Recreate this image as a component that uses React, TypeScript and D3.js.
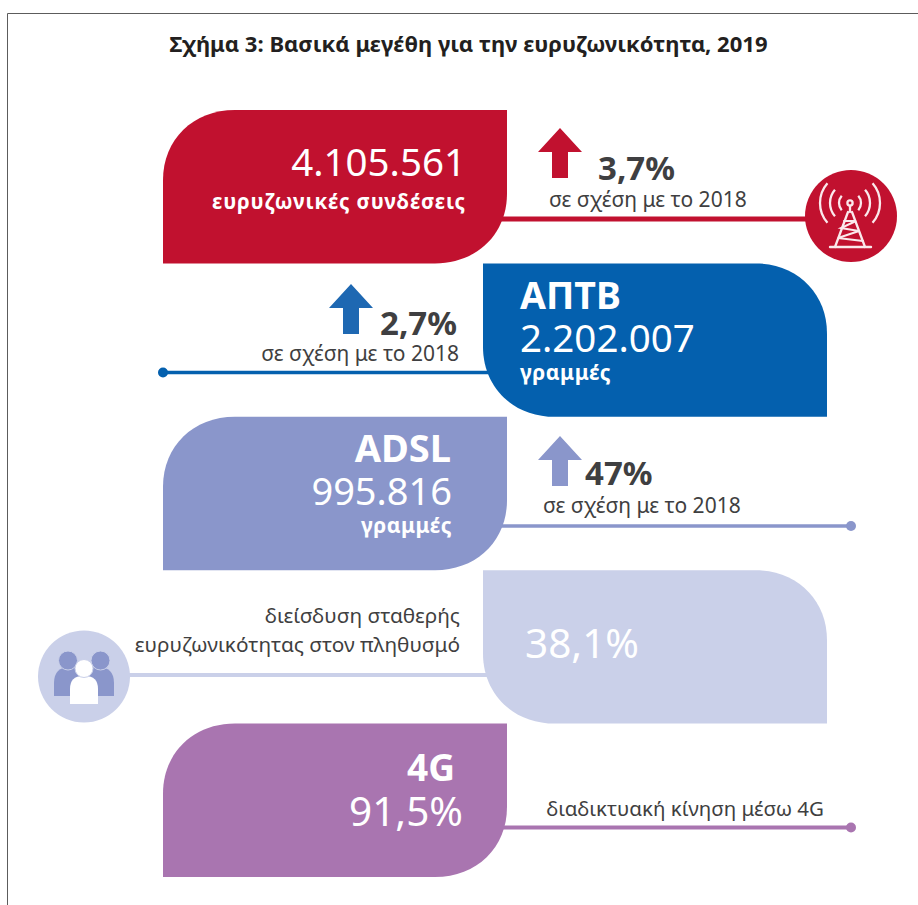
import React from "react";
import * as d3 from "d3";

const title = "Σχήμα 3: Βασικά μεγέθη για την ευρυζωνικότητα, 2019";
const rowKeys = ["total", "vdsl", "adsl", "penetration", "lte"];
const rowColors = ["#c1112f", "#0460ae", "#8a96cb", "#cad0e9", "#a975b0"];
const rowSides = ["left", "right", "left", "right", "left"];
const headings = ["", "ΑΠΤΒ", "ADSL", "", "4G"];
const values = ["4.105.561", "2.202.007", "995.816", "38,1%", "91,5%"];
const units = ["ευρυζωνικές συνδέσεις", "γραμμές", "γραμμές", "", ""];
const changes = ["3,7%", "2,7%", "47%", "", ""];
const arrowColors = ["#c1112f", "#1e68b2", "#8a96cb", "", ""];
const compareLabel = "σε σχέση με το 2018";
const penetrationLines = ["διείσδυση σταθερής", "ευρυζωνικότητας στον πληθυσμό"];
const lteLabel = "διαδικτυακή κίνηση μέσω 4G";

const FONT = "'Noto Sans', 'Open Sans', sans-serif";
const DARK = "#3f3f41";

const rowScale = d3.scaleBand<string>().domain(rowKeys).range([110, 877]);
const panelX = d3.scaleOrdinal<string, number>().domain(["left", "right"]).range([163, 483]);
const PANEL_W = 344;

function panelPath(x: number, y: number, w: number, h: number, side: string) {
  const rx = 72;
  const ry = 70;
  const k = 0.58;
  const p = d3.path();
  if (side === "left") {
    p.moveTo(x + rx, y);
    p.lineTo(x + w, y);
    p.lineTo(x + w, y + h - ry);
    p.bezierCurveTo(x + w, y + h - ry + ry * k, x + w - rx + rx * k, y + h, x + w - rx, y + h);
    p.lineTo(x, y + h);
    p.lineTo(x, y + ry);
    p.bezierCurveTo(x, y + ry - ry * k, x + rx - rx * k, y, x + rx, y);
  } else {
    p.moveTo(x, y);
    p.lineTo(x + w - rx, y);
    p.bezierCurveTo(x + w - rx + rx * k, y, x + w, y + ry - ry * k, x + w, y + ry);
    p.lineTo(x + w, y + h);
    p.lineTo(x + rx, y + h);
    p.bezierCurveTo(x + rx - rx * k, y + h, x, y + h - ry + ry * k, x, y + h - ry);
    p.lineTo(x, y);
  }
  p.closePath();
  return p.toString();
}

function arrowPath(cx: number, top: number) {
  const p = d3.path();
  p.moveTo(cx, top);
  p.lineTo(cx + 22, top + 24);
  p.lineTo(cx + 8, top + 24);
  p.lineTo(cx + 8, top + 50);
  p.lineTo(cx - 8, top + 50);
  p.lineTo(cx - 8, top + 24);
  p.lineTo(cx - 22, top + 24);
  p.closePath();
  return p.toString();
}

function Txt(props: any) {
  const { x, y, size, weight, fill, anchor, children, spacing } = props;
  return (
    <text
      x={x}
      y={y}
      fontSize={size}
      fontWeight={weight ?? 400}
      fill={fill}
      textAnchor={anchor ?? "start"}
      fontFamily={FONT}
      letterSpacing={spacing}
    >
      {children}
    </text>
  );
}

function Tower({ cx, cy }: { cx: number; cy: number }) {
  const arc = (r: number, a0: number, a1: number) =>
    d3.arc()({ innerRadius: r, outerRadius: r, startAngle: a0, endAngle: a1 } as any) as string;
  const radii = [11, 20, 30];
  const a = 0.72;
  const by = cy + 44;
  return (
    <g fill="none" stroke="#fbe9ec" strokeWidth={2.3} strokeLinecap="round">
      {radii.map((r) => (
        <g key={r} transform={`translate(${cx},${cy})`}>
          <path d={arc(r, Math.PI / 2 - a, Math.PI / 2 + a)} />
          <path d={arc(r, -Math.PI / 2 - a, -Math.PI / 2 + a)} />
        </g>
      ))}
      <circle cx={cx} cy={cy} r={2.6} />
      <path d={`M${cx} ${cy + 3}V${cy + 9}`} />
      <path d={`M${cx - 2} ${cy + 9}L${cx - 15} ${by}M${cx + 2} ${cy + 9}L${cx + 15} ${by}`} />
      <path d={`M${cx - 20} ${by}H${cx + 21}`} strokeWidth={2.4} />
      <path
        d={`M${cx - 6} ${cy + 18}L${cx + 6} ${cy + 18}L${cx - 9} ${cy + 25}L${cx + 9} ${cy + 28}L${cx - 12} ${cy + 35}L${cx + 13} ${cy + 38}`}
        strokeWidth={2}
      />
    </g>
  );
}

function People({ cx, cy, dark, light }: { cx: number; cy: number; dark: string; light: string }) {
  const body = (x: number, y: number, w: number, h: number, r: number) => {
    const p = d3.path();
    p.moveTo(x, y + h);
    p.lineTo(x, y + r);
    p.quadraticCurveTo(x, y, x + r, y);
    p.lineTo(x + w - r, y);
    p.quadraticCurveTo(x + w, y, x + w, y + r);
    p.lineTo(x + w, y + h);
    p.closePath();
    return p.toString();
  };
  return (
    <g>
      <path d={body(cx - 30, cy - 9, 32, 29, 16)} fill={dark} />
      <path d={body(cx - 2, cy - 9, 32, 29, 16)} fill={dark} />
      <circle cx={cx - 16} cy={cy - 15.5} r={9.5} fill={dark} stroke={light} strokeWidth={1} />
      <circle cx={cx + 16.5} cy={cy - 15.5} r={9.5} fill={dark} stroke={light} strokeWidth={1} />
      <path d={body(cx - 14, cy + 0, 28, 28, 13)} fill="#fff" />
      <circle cx={cx} cy={cy - 7.5} r={9} fill="#fff" stroke={light} strokeWidth={1} />
    </g>
  );
}

export default function App() {
  const bh = rowScale.bandwidth();
  const py = (k: string) => rowScale(k) as number;
  return (
    <svg
      width={918}
      height={905}
      viewBox="0 0 918 905"
      style={{ position: "absolute", left: 0, top: 0, background: "#fff" }}
    >
      <path d="M7.5 905V13.5H918" fill="none" stroke="#5c5c5c" strokeWidth={1} />
      <Txt x={468.5} y={52} size={22.05} weight={700} fill="#231f20" anchor="middle">
        {title}
      </Txt>

      {/* connector lines */}
      <line x1={490} x2={820} y1={219} y2={219} stroke={rowColors[0]} strokeWidth={5} />
      <line x1={163} x2={500} y1={372.5} y2={372.5} stroke={rowColors[1]} strokeWidth={3.5} />
      <circle cx={163} cy={372.5} r={5} fill={rowColors[1]} />
      <line x1={490} x2={851} y1={526} y2={526} stroke={rowColors[2]} strokeWidth={3.5} />
      <circle cx={851} cy={526} r={5} fill={rowColors[2]} />
      <line x1={125} x2={500} y1={675} y2={675} stroke={rowColors[3]} strokeWidth={4} />
      <line x1={490} x2={851} y1={827.5} y2={827.5} stroke={rowColors[4]} strokeWidth={4} />
      <circle cx={851} cy={827.5} r={5} fill={rowColors[4]} />

      {/* panels */}
      {rowKeys.map((k, i) => (
        <path key={k} d={panelPath(panelX(rowSides[i]), py(k), PANEL_W, bh, rowSides[i])} fill={rowColors[i]} />
      ))}

      {/* row 1 */}
      <Txt x={466} y={176} size={38.5} fill="#fff" anchor="end">{values[0]}</Txt>
      <Txt x={466} y={209} size={20.5} weight={700} fill="#fff" anchor="end" spacing={0.85}>{units[0]}</Txt>
      <path d={arrowPath(560, 128)} fill={arrowColors[0]} />
      <Txt x={598} y={180} size={33} weight={700} fill={DARK}>{changes[0]}</Txt>
      <Txt x={549} y={207} size={21} fill={DARK}>{compareLabel}</Txt>
      <circle cx={851} cy={216} r={46} fill={rowColors[0]} />
      <Tower cx={850} cy={203} />

      {/* row 2 */}
      <Txt x={520} y={309} size={37.5} weight={700} fill="#fff">{headings[1]}</Txt>
      <Txt x={520} y={352} size={38.5} fill="#fff">{values[1]}</Txt>
      <Txt x={520} y={380} size={21} weight={700} fill="#fff" spacing={0.5}>{units[1]}</Txt>
      <path d={arrowPath(351, 284)} fill={arrowColors[1]} />
      <Txt x={457} y={335} size={33} weight={700} fill={DARK} anchor="end">{changes[1]}</Txt>
      <Txt x={459} y={361} size={21} fill={DARK} anchor="end">{compareLabel}</Txt>

      {/* row 3 */}
      <Txt x={451} y={462} size={38} weight={700} fill="#fff" anchor="end">{headings[2]}</Txt>
      <Txt x={452} y={505} size={38} fill="#fff" anchor="end">{values[2]}</Txt>
      <Txt x={452} y={533} size={21} weight={700} fill="#fff" anchor="end" spacing={0.5}>{units[2]}</Txt>
      <path d={arrowPath(560, 436)} fill={arrowColors[2]} />
      <Txt x={585} y={485} size={33} weight={700} fill={DARK}>{changes[2]}</Txt>
      <Txt x={543} y={513} size={21} fill={DARK}>{compareLabel}</Txt>

      {/* row 4 */}
      <Txt x={525} y={658} size={40.5} fill="#fff">{values[3]}</Txt>
      {penetrationLines.map((t, i) => (
        <Txt key={t} x={460} y={623 + i * 29} size={20.8} fill={DARK} anchor="end">{t}</Txt>
      ))}
      <circle cx={84} cy={676.5} r={46} fill={rowColors[3]} />
      <People cx={84} cy={676} dark={rowColors[2]} light={rowColors[3]} />

      {/* row 5 */}
      <Txt x={455} y={781} size={37} weight={700} fill="#fff" anchor="end">{headings[4]}</Txt>
      <Txt x={463} y={826} size={40.5} fill="#fff" anchor="end">{values[4]}</Txt>
      <Txt x={824} y={816} size={20.5} fill={DARK} anchor="end">{lteLabel}</Txt>
    </svg>
  );
}
